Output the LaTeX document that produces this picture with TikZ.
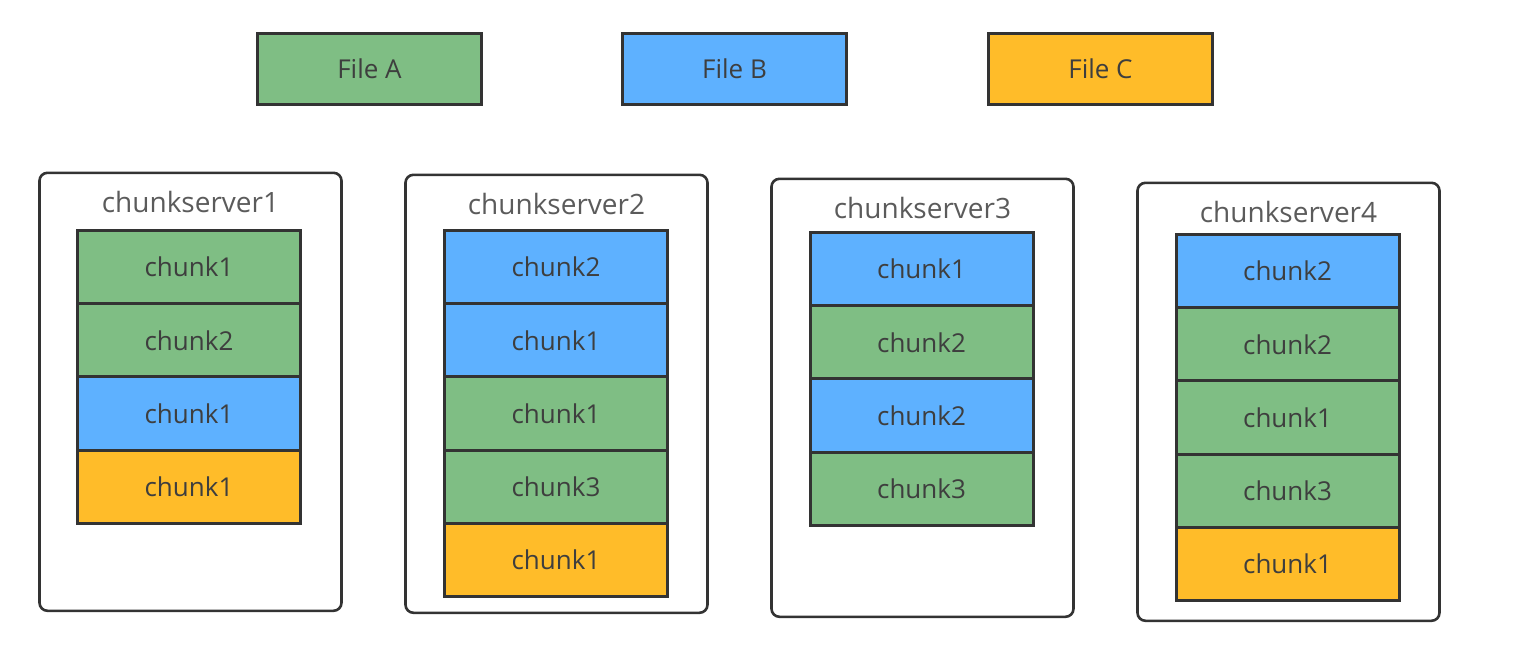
\documentclass[tikz,border=0pt]{standalone}
\usepackage{fontspec}
\setmainfont{Open Sans}
\usetikzlibrary{positioning}

\definecolor{fileA}{HTML}{7FBE84}
\definecolor{fileB}{HTML}{5EB1FF}
\definecolor{fileC}{HTML}{FFBC29}
\definecolor{edgegray}{HTML}{333333}
\definecolor{textgray}{HTML}{3E3E3E}

\begin{document}
\begin{tikzpicture}[x=0.5pt,y=-0.5pt,node distance=0pt,
    file node/.style={draw=edgegray,line width=1.5pt,outer sep=0pt,minimum width=112pt,
      minimum height=35.5pt,text=textgray,font=\fontsize{13}{15}\selectfont},
    chunk node/.style={draw=edgegray,line width=1.5pt,outer sep=0pt,anchor=north,minimum width=111.5pt,
      minimum height=36.6pt,text=textgray,font=\fontsize{13}{15}\selectfont},
    server node/.style={draw=edgegray,line width=1.3pt,rounded corners=4pt,anchor=north,
      minimum width=151pt,minimum height=219pt},
    title node/.style={text=textgray!85!white,font=\fontsize{14}{16}\selectfont}]

  \useasboundingbox (0,0) rectangle (1522,653);

  % files
  \node[file node,fill=fileA] (fa) at (369.5,69) {File A};
  \node[file node,fill=fileB] (fb) at (734.5,69) {File B};
  \node[file node,fill=fileC] (fc) at (1100.5,69) {File C};

  % chunkserver1
  \node[server node] (s1) at (190.5,171.5) {};
  \node[title node] (t1) at ([yshift=-15pt]s1.north) {chunkserver1};
  \node[chunk node,fill=fileA] (c11) at (189,230.5) {chunk1};
  \node[chunk node,fill=fileA,below=of c11] (c12) {chunk2};
  \node[chunk node,fill=fileB,below=of c12] (c13) {chunk1};
  \node[chunk node,fill=fileC,below=of c13] (c14) {chunk1};

  % chunkserver2
  \node[server node] (s2) at (556.5,173.5) {};
  \node[title node] (t2) at ([yshift=-15pt]s2.north) {chunkserver2};
  \node[chunk node,fill=fileB] (c21) at (556,230.5) {chunk2};
  \node[chunk node,fill=fileB,below=of c21] (c22) {chunk1};
  \node[chunk node,fill=fileA,below=of c22] (c23) {chunk1};
  \node[chunk node,fill=fileA,below=of c23] (c24) {chunk3};
  \node[chunk node,fill=fileC,below=of c24] (c25) {chunk1};

  % chunkserver3
  \node[server node] (s3) at (922.5,177.5) {};
  \node[title node] (t3) at ([yshift=-15pt]s3.north) {chunkserver3};
  \node[chunk node,fill=fileB] (c31) at (921.5,232.5) {chunk1};
  \node[chunk node,fill=fileA,below=of c31] (c32) {chunk2};
  \node[chunk node,fill=fileB,below=of c32] (c33) {chunk2};
  \node[chunk node,fill=fileA,below=of c33] (c34) {chunk3};

  % chunkserver4
  \node[server node] (s4) at (1288.5,181.5) {};
  \node[title node] (t4) at ([yshift=-15pt]s4.north) {chunkserver4};
  \node[chunk node,fill=fileB] (c41) at (1287.5,234.5) {chunk2};
  \node[chunk node,fill=fileA,below=of c41] (c42) {chunk2};
  \node[chunk node,fill=fileA,below=of c42] (c43) {chunk1};
  \node[chunk node,fill=fileA,below=of c43] (c44) {chunk3};
  \node[chunk node,fill=fileC,below=of c44] (c45) {chunk1};
\end{tikzpicture}
\end{document}
